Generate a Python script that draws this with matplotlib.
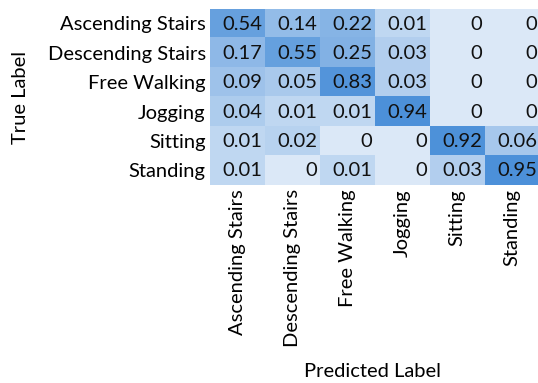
import numpy as np
import matplotlib
matplotlib.use("Agg")
import matplotlib.pyplot as plt
from matplotlib.colors import LinearSegmentedColormap, PowerNorm

classes = ["Ascending Stairs", "Descending Stairs", "Free Walking",
           "Jogging", "Sitting", "Standing"]

row_ascending = [0.54, 0.14, 0.22, 0.01, 0, 0]
row_descending = [0.17, 0.55, 0.25, 0.03, 0, 0]
row_walking = [0.09, 0.05, 0.83, 0.03, 0, 0]
row_jogging = [0.04, 0.01, 0.01, 0.94, 0, 0]
row_sitting = [0.01, 0.02, 0, 0, 0.92, 0.06]
row_standing = [0.01, 0, 0.01, 0, 0.03, 0.95]

cm = np.array([row_ascending, row_descending, row_walking,
               row_jogging, row_sitting, row_standing])

plt.rcParams["font.family"] = ["Lato", "DejaVu Sans"]
FS = 14.5

cmap = LinearSegmentedColormap.from_list("soft_blues", ["#dbe8f7", "#4a8fd9"])
norm = PowerNorm(gamma=0.36, vmin=0, vmax=1)

fig = plt.figure(figsize=(5.38, 3.83), dpi=100)
ax = fig.add_axes([0.390, 0.517, 0.612, 0.460])
ax.imshow(cm, cmap=cmap, norm=norm, aspect="auto", interpolation="nearest")

n = len(classes)
for i in range(n):
    for j in range(n):
        v = cm[i, j]
        txt = "0" if v == 0 else f"{v:.2f}"
        ax.text(j + 0.46, i + 0.02, txt, ha="right", va="center",
                fontsize=FS, color="#111111")

ax.set_xticks(range(n))
ax.set_yticks(range(n))
ax.set_xticklabels(classes, rotation=90, fontsize=FS)
ax.set_yticklabels(classes, fontsize=FS)
ax.tick_params(length=0, pad=3)
for s in ax.spines.values():
    s.set_visible(False)

fig.text(0.038, 0.745, "True Label", rotation=90, ha="center", va="center", fontsize=FS)
fig.text(0.693, 0.030, "Predicted Label", ha="center", va="center", fontsize=FS)

fig.savefig("out.png", dpi=100)
